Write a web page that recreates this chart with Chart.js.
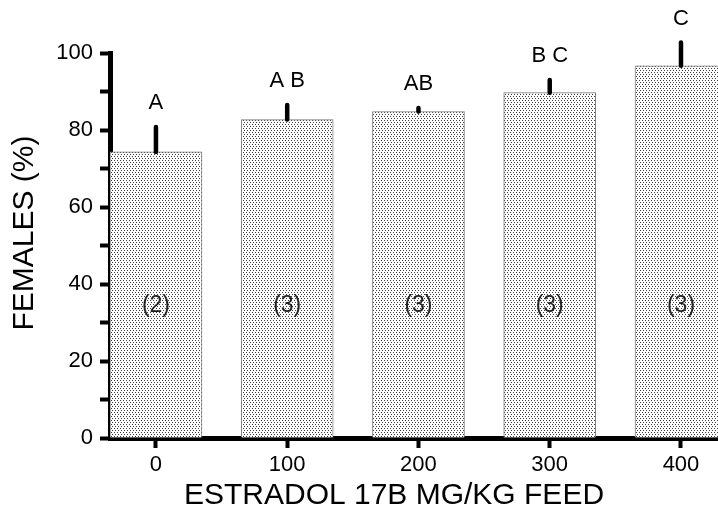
<!DOCTYPE html>
<html>
<head>
<meta charset="utf-8">
<script src="https://cdn.jsdelivr.net/npm/chart.js@4.4.1/dist/chart.umd.min.js"></script>
<style>
  html, body { margin: 0; padding: 0; background: #fff; }
  #wrap { width: 718px; height: 508px; }
</style>
</head>
<body>
<div id="wrap"><canvas id="chart" width="718" height="508"></canvas></div>
<script>
const doses = [0, 100, 200, 300, 400];
const females = [74.3, 82.7, 84.8, 89.7, 96.7];
const errorTop = [80.8, 86.5, 85.7, 93.0, 102.7];
const groupLetters = ["A", "A B", "AB", "B C", "C"];
const replicates = ["(2)", "(3)", "(3)", "(3)", "(3)"];
const yTicks = [0, 10, 20, 30, 40, 50, 60, 70, 80, 90, 100];
const yLabelled = [0, 20, 40, 60, 80, 100];
const xTitle = "ESTRADOL 17B MG/KG FEED";
const yTitle = "FEMALES (%)";

const FONT = "'Liberation Sans', Arial, sans-serif";

// dotted screen fill like the old plotting package
function makeDots() {
  const c = document.createElement("canvas");
  c.width = 6;
  c.height = 4;
  const g = c.getContext("2d");
  g.fillStyle = "#fff";
  g.fillRect(0, 0, 6, 4);
  g.fillStyle = "#3c3c3c";
  [[0, 0], [3, 0], [1, 2], [4, 2]].forEach((p) => g.fillRect(p[0], p[1], 1, 1));
  return g.createPattern(c, "repeat");
}

const annotate = {
  id: "annotate",
  afterDatasetsDraw(chart) {
    const { ctx, scales } = chart;
    const x = scales.x;
    const y = scales.y;
    ctx.save();
    ctx.textAlign = "center";
    ctx.textBaseline = "middle";
    doses.forEach((d, i) => {
      const px = x.getPixelForValue(d);
      const top = y.getPixelForValue(females[i]);
      const end = y.getPixelForValue(errorTop[i]);
      // upper error bar
      ctx.strokeStyle = "#000";
      ctx.lineWidth = 4.5;
      ctx.lineCap = "round";
      ctx.beginPath();
      ctx.moveTo(px, top);
      ctx.lineTo(px, end);
      ctx.stroke();
      // significance letters
      ctx.fillStyle = "#000";
      ctx.font = "22px " + FONT;
      ctx.fillText(groupLetters[i], px, end - 24);
      // number of replicates
      ctx.fillStyle = "#222";
      ctx.font = "23px " + FONT;
      ctx.fillText(replicates[i], px, y.getPixelForValue(34.3));
    });

    // axis titles
    ctx.fillStyle = "#000";
    ctx.font = "30px " + FONT;
    ctx.fillText(xTitle, 394, 496);
    ctx.translate(25, 233);
    ctx.rotate(-Math.PI / 2);
    ctx.fillText(yTitle, 0, 0);
    ctx.restore();
  },
};

new Chart(document.getElementById("chart"), {
  type: "bar",
  data: {
    datasets: [
      {
        data: doses.map((d, i) => ({ x: d, y: females[i] })),
        backgroundColor: makeDots(),
        borderColor: "#7a7a7a",
        borderWidth: 1,
        barThickness: 92,
      },
    ],
  },
  options: {
    responsive: false,
    animation: false,
    devicePixelRatio: 1,
    layout: { padding: { top: 53, right: 0, left: 0, bottom: 0 } },
    plugins: {
      legend: { display: false },
      tooltip: { enabled: false },
    },
    scales: {
      x: {
        type: "linear",
        min: -35.0,
        max: 428.2,
        offset: false,
        afterBuildTicks: (s) => {
          s.ticks = doses.map((v) => ({ value: v }));
        },
        afterFit: (s) => {
          s.height = 70;
        },
        border: { display: true, color: "#000", width: 5 },
        grid: {
          offset: false,
          drawOnChartArea: false,
          drawTicks: true,
          tickLength: 10,
          tickWidth: 4,
          tickColor: "#000",
        },
        ticks: {
          font: { family: FONT, size: 22 },
          color: "#000",
          padding: 4,
          maxRotation: 0,
          autoSkip: false,
        },
      },
      y: {
        min: 0,
        max: 100,
        afterBuildTicks: (s) => {
          s.ticks = yTicks.map((v) => ({ value: v }));
        },
        afterFit: (s) => {
          s.width = 110;
        },
        border: { display: true, color: "#000", width: 5 },
        grid: {
          drawOnChartArea: false,
          drawTicks: true,
          tickLength: 10,
          tickWidth: 4,
          tickColor: "#000",
        },
        ticks: {
          font: { family: FONT, size: 22 },
          color: "#000",
          padding: 7,
          autoSkip: false,
          callback: (v) => (yLabelled.includes(v) ? String(v) : ""),
        },
      },
    },
  },
  plugins: [annotate],
});
</script>
</body>
</html>
